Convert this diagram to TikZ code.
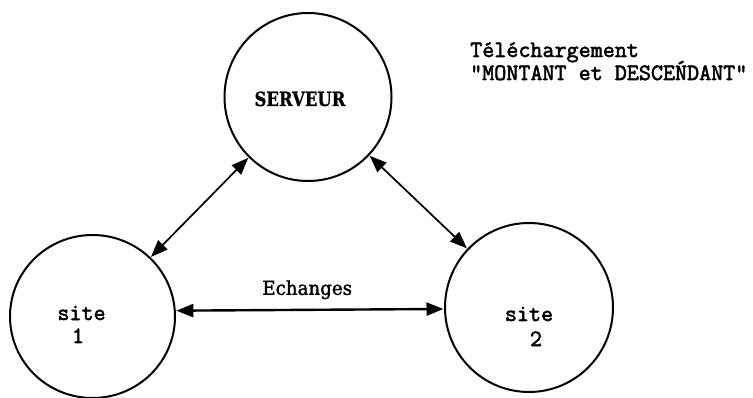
\documentclass[tikz,border=0pt]{standalone}
\usepackage{fontspec}
\usetikzlibrary{arrows.meta,shapes.geometric}
\newfontfamily\twfont[FakeBold=2.2]{Latin Modern Mono}
\newfontfamily\slabfont[FakeStretch=0.95,FakeBold=1.5]{DejaVu Serif}
\newfontfamily\slabbold[FakeStretch=0.84,FakeBold=0.8]{DejaVu Serif}
\tikzset{
  site/.style={draw, ellipse, line width=2pt, inner sep=0pt},
  conn/.style={line width=1.7pt, {Triangle[length=17pt,width=13pt]}-{Triangle[length=17pt,width=13pt]}, shorten <=0.5pt, shorten >=0.5pt},
  tw/.style={inner sep=0pt, font=\twfont\fontsize{23.4}{23}\selectfont},
  slab/.style={inner sep=0pt, font=\slabfont\fontsize{19.2}{20}\selectfont},
  slabb/.style={inner sep=0pt, font=\slabbold\bfseries\fontsize{19.6}{20}\selectfont}
}
\begin{document}
\begin{tikzpicture}[x=1pt,y=-1pt]
\useasboundingbox[fill=white] (0,0) rectangle (753,398);
% circles
\node[site, minimum width=167pt, minimum height=168pt] (srv) at (308,97) {};
\node[site, minimum width=165pt, minimum height=163pt] (s1) at (92.5,316.5) {};
\node[site, minimum width=168pt, minimum height=169pt] (s2) at (529,307.5) {};
% texts
\node[slabb, anchor=base] (tsrv) at (300,106) {SERVEUR};
\node[tw, anchor=base] (ts1a) at (81.5,320) {site};
\node[tw, anchor=base] (ts1b) at (78,343) {1};
\node[tw, anchor=base] (ts2a) at (529,321) {site};
\node[tw, anchor=base] (ts2b) at (536,346) {2};
\node[tw, anchor=base west] (tt1) at (470,57) {Téléchargement};
\node[tw, anchor=base west] (tt2) at (470,80) {"MONTANT et DESCEŃDANT"};
% connectors
\draw[conn, line width=2.4pt] (s1.4.5) -- node[slab, anchor=base, pos=0.49, yshift=15pt] (tech) {Echanges} (s2.181.7);
\draw[conn] (s1) -- (srv);
\draw[conn] (srv) -- (s2);
\end{tikzpicture}
\end{document}
